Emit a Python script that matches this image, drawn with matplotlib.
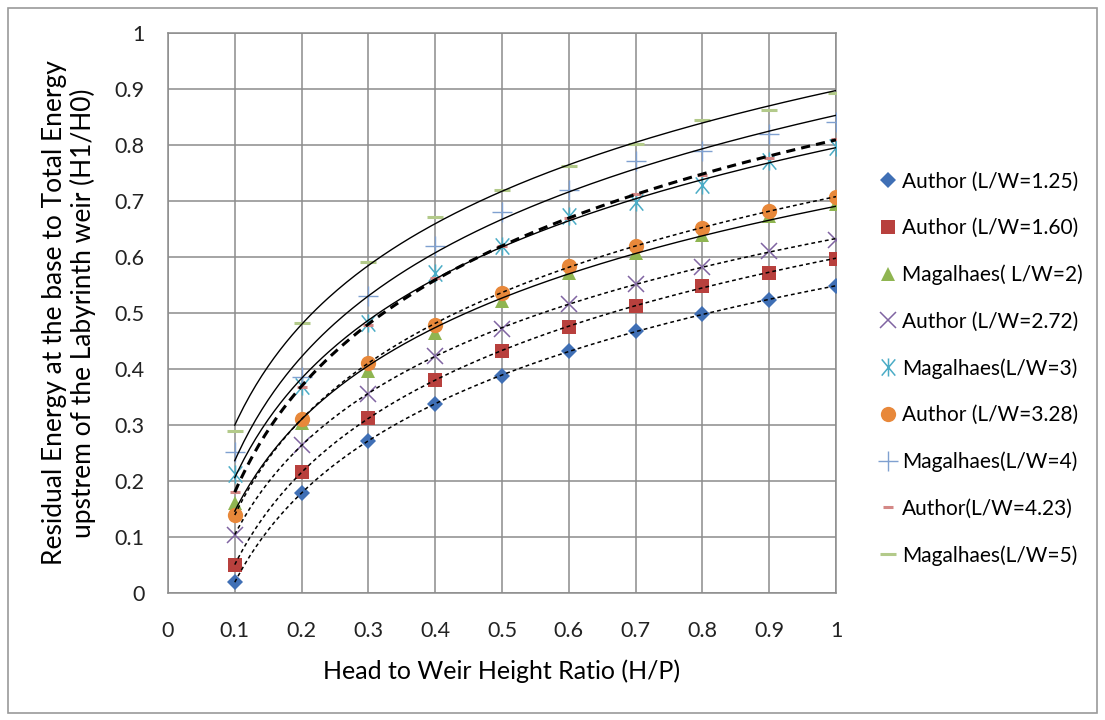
import numpy as np
import matplotlib
matplotlib.use('Agg')
import matplotlib.pyplot as plt
from matplotlib.path import Path
from matplotlib.patches import Rectangle

plt.rcParams['font.family'] = ['Lato', 'DejaVu Sans']

x = [0.1, 0.2, 0.3, 0.4, 0.5, 0.6, 0.7, 0.8, 0.9, 1.0]

a125 = [0.02, 0.178, 0.271, 0.338, 0.388, 0.432, 0.467, 0.499, 0.524, 0.548]
a160 = [0.05, 0.216, 0.313, 0.380, 0.432, 0.475, 0.513, 0.548, 0.572, 0.597]
m2 = [0.16, 0.304, 0.396, 0.464, 0.521, 0.572, 0.608, 0.640, 0.673, 0.695]
a272 = [0.104, 0.265, 0.356, 0.423, 0.471, 0.516, 0.551, 0.583, 0.611, 0.631]
m3 = [0.212, 0.370, 0.483, 0.572, 0.620, 0.673, 0.698, 0.729, 0.771, 0.797]
a328 = [0.140, 0.310, 0.411, 0.479, 0.536, 0.584, 0.620, 0.652, 0.683, 0.707]
m4 = [0.251, 0.385, 0.530, 0.620, 0.681, 0.719, 0.771, 0.790, 0.820, 0.841]
a423 = [0.180, 0.368, 0.479, 0.563, 0.620, 0.670, 0.712, 0.747, 0.777, 0.811]
m5 = [0.290, 0.482, 0.591, 0.672, 0.720, 0.762, 0.802, 0.844, 0.862, 0.892]

labels = ['Author (L/W=1.25)', 'Author (L/W=1.60)', 'Magalhaes( L/W=2)',
          'Author (L/W=2.72)', 'Magalhaes(L/W=3)', 'Author (L/W=3.28)',
          'Magalhaes(L/W=4)', 'Author(L/W=4.23)', 'Magalhaes(L/W=5)']

star = Path([(0, -1), (0, 1), (-0.75, -0.9), (0.75, 0.9), (-0.75, 0.9), (0.75, -0.9)],
            [Path.MOVETO, Path.LINETO, Path.MOVETO, Path.LINETO, Path.MOVETO, Path.LINETO])

# series data, marker style, trendline style
series = [
    (a125, dict(marker='D', color='#3f6fb5', ms=8.5, mew=0), 'dash'),
    (a160, dict(marker='s', color='#b8403d', ms=10, mew=0), 'dash'),
    (m2, dict(marker='^', color='#8fb551', ms=10, mew=0), 'solid'),
    (a272, dict(marker='x', color='#8064a2', ms=11, mew=1.1), 'dash'),
    (m3, dict(marker=star, color='#4bacc6', ms=13, mew=1.1), 'solid'),
    (a328, dict(marker='o', color='#e8883a', ms=11, mew=0), 'dash'),
    (m4, dict(marker='+', color='#7fa0d0', ms=14, mew=1.0), 'solid'),
    (a423, dict(marker='_', color='#d48886', ms=7, mew=2.2), 'bold'),
    (m5, dict(marker='_', color='#b3ca8a', ms=12, mew=2.2), 'solid'),
]

fig = plt.figure(figsize=(11.05, 7.2), dpi=100)
ax = fig.add_axes([0.152, 0.1764, 0.6046, 0.7778])

xs = np.linspace(0.1, 1.0, 200)
xa = np.array(x)
for (vals, st, ls), lab in zip(series, labels):
    ax.plot(x, vals, linestyle='none', label=lab, zorder=3, **st)
    k, b = np.polyfit(np.log(xa), np.array(vals), 1)
    fit = k * np.log(xs) + b
    if ls == 'solid':
        ax.plot(xs, fit, color='black', lw=1.0, zorder=4)
    elif ls == 'dash':
        ax.plot(xs, fit, color='black', lw=1.1, linestyle=(0, (2.5, 2)), zorder=4)
    else:
        ax.plot(xs, fit, color='black', lw=2.2, linestyle=(0, (3, 2)), zorder=4)

ax.set_xlim(0, 1)
ax.set_ylim(0, 1)
ax.set_xticks(np.arange(0, 1.01, 0.1))
ax.set_yticks(np.arange(0, 1.01, 0.1))
ax.set_xticklabels(['0', '0.1', '0.2', '0.3', '0.4', '0.5', '0.6', '0.7', '0.8', '0.9', '1'])
ax.set_yticklabels(['0', '0.1', '0.2', '0.3', '0.4', '0.5', '0.6', '0.7', '0.8', '0.9', '1'])
ax.tick_params(length=0, labelsize=15.5, pad=17, colors='#222222')
ax.tick_params(axis='x', pad=20)
ax.grid(True, color='#8c8c8c', lw=1.1)
for s in ax.spines.values():
    s.set_color('#8c8c8c')
    s.set_linewidth(1.1)

ax.set_xlabel('Head to Weir Height Ratio (H/P)', fontsize=18)
ax.xaxis.set_label_coords(0.5, -0.118)
ax.set_ylabel('Residual Energy at the base to Total Energy\nupstrem of the Labyrinth weir (H1/H0)',
              fontsize=19, linespacing=1.15)
ax.yaxis.set_label_coords(-0.108, 0.5)

ax.legend(loc='upper left', bbox_to_anchor=(0.786, 0.776), bbox_transform=fig.transFigure,
          frameon=False, fontsize=15, labelspacing=1.27, handlelength=0.9,
          handletextpad=0.2, borderpad=0, numpoints=1)

fig.patches.append(Rectangle((0.007, 0.01), 0.986, 0.979, transform=fig.transFigure,
                             fill=False, edgecolor='#9a9a9a', lw=1.2))

fig.savefig('out.png', dpi=100)
